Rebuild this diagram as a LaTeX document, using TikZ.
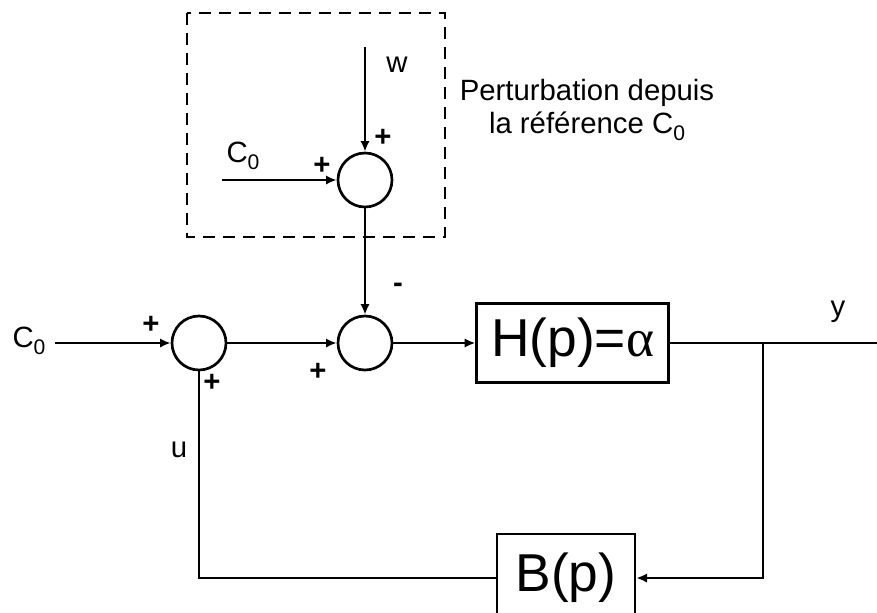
\documentclass[tikz,border=0pt]{standalone}
\usepackage{fontspec}
\setmainfont{Liberation Sans}
\newfontfamily\greekserif{Liberation Serif}
\usetikzlibrary{positioning,arrows.meta}
\newcommand{\Cnull}{C\raisebox{-0.45ex}{\scalebox{0.72}{0}}}

\begin{document}
\begin{tikzpicture}[
  x=0.75pt, y=-0.75pt,
  >={Latex[length=8pt,width=7pt]},
  line width=2pt,
  sumn/.style={circle, draw, minimum size=40.5pt, inner sep=0pt},
  blk/.style={rectangle, draw, inner sep=0pt, font=\fontsize{40}{44}\selectfont},
  lbl/.style={font=\fontsize{22}{25}\selectfont, inner sep=0pt},
  sgn/.style={font=\bfseries\fontsize{22}{24}\selectfont, inner sep=0pt}
]
\clip (0,0) rectangle (877,612);
\node[sumn] (sumA) at (199,343) {};
\node[sumn] (sumB) at (365,343) {};
\node[sumn] (sumP) at (365,180) {};
\node[blk, minimum width=144pt, minimum height=59pt, right=61.5pt of sumB] (H) {H(p)={\greekserif α}};
\node[blk, minimum width=103.5pt, minimum height=66pt] (B) at (566,578) {B(p)};
\coordinate (c0in) at (55,343);
\coordinate (c0top) at (222,180);
\coordinate (win) at (365,47);
\coordinate (yout) at (877,343);
\coordinate (tap) at (763,343);
\coordinate (tapdn) at (763,578);
\coordinate (ucorner) at (199,578);
% perturbation box
\draw[dashed, dash pattern=on 9pt off 6pt] (187,13) rectangle (445,237);
% labels
\node[lbl] (c0main) at (29,341) {\Cnull};
\node[lbl] (c0pert) at (243,156) {\Cnull};
\node[lbl] (wlbl) at (397,65) {w};
\node[lbl] (ylbl) at (838,312) {y};
\node[lbl] (ulbl) at (179,450) {u};
\node[lbl, align=center] (pert) at (587,110) {Perturbation depuis\\la référence \Cnull};
\node[sgn] (pA1) at (151,325) {+};
\node[sgn] (pA2) at (212,383) {+};
\node[sgn] (pB1) at (318,372) {+};
\node[sgn] (mB) at (398,288) {-};
\node[sgn] (pP1) at (322,166) {+};
\node[sgn] (pP2) at (383,138) {+};
% connectors
\draw[->] (c0in) -- (sumA);
\draw[->] (sumA) -- (sumB);
\draw[->] (sumB) -- (H);
\draw (H) -- (yout);
\draw[->] (tap) -- (tapdn) -- (B);
\draw (B) -- (ucorner) -- (sumA);
\draw[->] (win) -- (sumP);
\draw[->] (c0top) -- (sumP);
\draw[->] (sumP) -- (sumB);
\end{tikzpicture}
\end{document}
